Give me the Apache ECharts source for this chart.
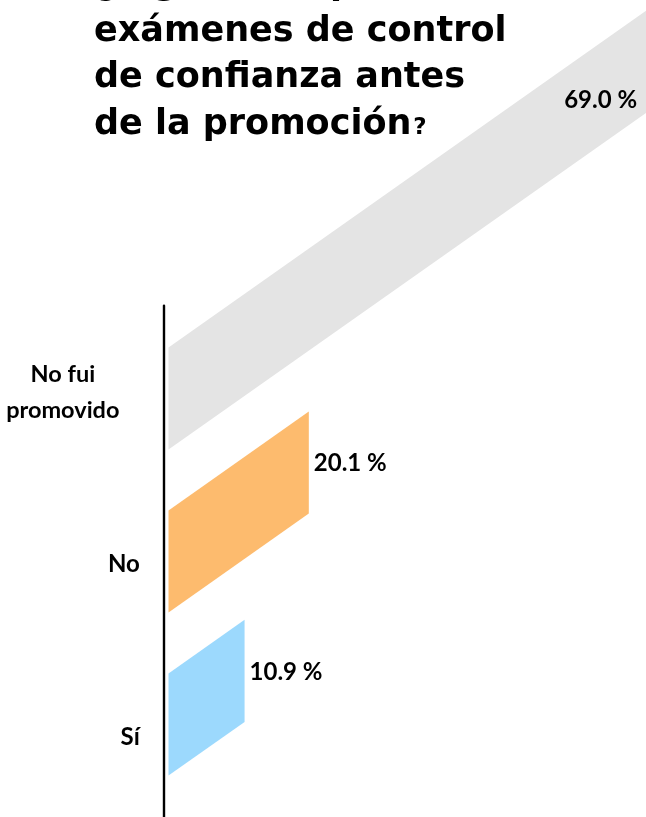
<!DOCTYPE html>
<html>
<head>
<meta charset="utf-8">
<script src="https://cdn.jsdelivr.net/npm/echarts@6/dist/echarts.min.js"></script>
<style>
html,body{margin:0;padding:0;background:#fff;}
#c{width:646px;height:817px;}
</style>
</head>
<body>
<div id="c"></div>
<script>
// ---- data ----
const categories = ['No fui\npromovido', 'No', 'Sí'];
const values = [69.0, 20.1, 10.9];
const titleLines = ['¿Algún, te aplicaron', 'exámenes de control', 'de confianza antes', 'de la promoción'];

// ---- styles ----
const barColors = ['#e4e4e4', '#fdbb6e', '#9cd9fd'];
const SLOPE = 0.705;
const LABEL_FONT = '700 24px Lato';
const CHART_W = 646;

const chart = echarts.init(document.getElementById('c'), null, {renderer: 'canvas'});

const seriesData = values.map((v, i) => [v, i]);

const option = {
  animation: false,
  backgroundColor: '#fff',
  title: {
    text: titleLines.join('\n') + '{q|?}',
    left: 89,
    top: -43,
    textStyle: {
      fontFamily: 'DejaVu Sans',
      fontWeight: 'bold',
      fontSize: 35,
      lineHeight: 46.5,
      color: '#000',
      rich: {
        q: {fontFamily: 'DejaVu Sans', fontWeight: 'bold', fontSize: 23, lineHeight: 46.5, color: '#000', padding: [6, 0, 0, 2]}
      }
    }
  },
  grid: [
    {left: 168.5, top: 317, height: 489, width: 698, outerBoundsMode: 'none', containLabel: false},
    {left: 163.8, top: 305.75, height: 517.5, width: 100, outerBoundsMode: 'none', containLabel: false}
  ],
  xAxis: [
    {gridIndex: 0, type: 'value', min: 0, max: 100, show: false},
    {gridIndex: 1, type: 'value', min: 0, max: 100, show: false}
  ],
  yAxis: [
    {gridIndex: 0, type: 'category', data: categories, inverse: true, show: false},
    {
      gridIndex: 1, type: 'category', data: categories, inverse: true,
      axisLine: {show: true, onZero: false, lineStyle: {color: '#000', width: 2.4}},
      axisTick: {show: false},
      splitLine: {show: false},
      axisLabel: {
        margin: 24,
        fontFamily: 'Lato', fontWeight: 700, fontSize: 24, color: '#000',
        formatter: function (val) {
          if (val.indexOf('\n') >= 0) {
            return val.split('\n').map(s => '{w|' + s + '}').join('\n');
          }
          return val;
        },
        rich: {
          w: {width: 154, align: 'center', fontFamily: 'Lato', fontWeight: 700, fontSize: 23.5, lineHeight: 36, color: '#000'}
        }
      }
    }
  ],
  series: [{
    type: 'custom',
    xAxisIndex: 0,
    yAxisIndex: 0,
    data: seriesData,
    encode: {x: 0, y: 1},
    clip: false,
    renderItem: function (params, api) {
      const v = api.value(0);
      const idx = api.value(1);
      const p0 = api.coord([0, idx]);
      const p1 = api.coord([v, idx]);
      const band = api.size([0, 1])[1];
      const h = band * 0.313;
      const x0 = p0[0], x1 = p1[0], yc = p0[1];
      const dy = SLOPE * (x1 - x0);
      const pts = [[x0, yc - h], [x1, yc - h - dy], [x1, yc + h - dy], [x0, yc + h]];
      const txt = v.toFixed(1) + ' %';
      const labelW = 75;
      let lx, ly, align;
      if (x1 + 6 + labelW > CHART_W) {
        // no room outside: put it inside, right-aligned, on the bar's centre line
        lx = x1 - 13;
        align = 'right';
        const cx = lx - labelW / 2;
        ly = yc - SLOPE * (cx - x0) + 6;
      } else {
        lx = x1 + 5;
        align = 'left';
        ly = yc - dy + 1;
      }
      return {
        type: 'group',
        children: [
          {type: 'polygon', shape: {points: pts}, style: {fill: barColors[idx]}},
          {type: 'text', style: {text: txt, x: lx, y: ly, align: align, verticalAlign: 'middle', font: LABEL_FONT, fill: '#000'}}
        ]
      };
    }
  }]
};
chart.setOption(option);
</script>
</body>
</html>
